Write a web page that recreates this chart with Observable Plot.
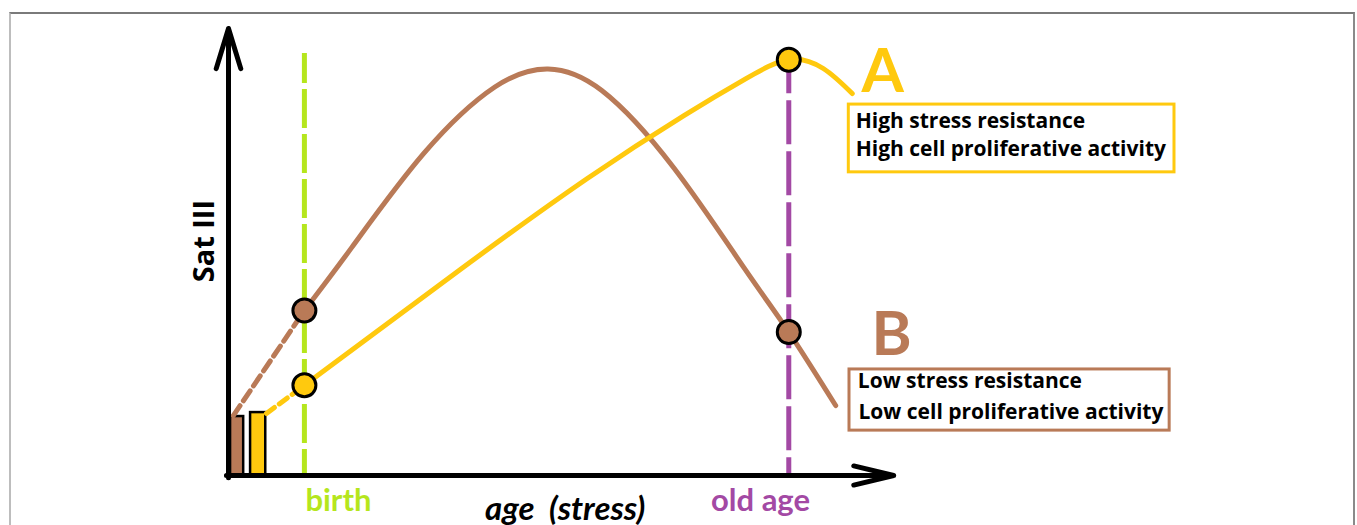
<!DOCTYPE html>
<html><head><meta charset="utf-8">
<script src="https://cdn.jsdelivr.net/npm/d3@7"></script>
<script src="https://cdn.jsdelivr.net/npm/@observablehq/plot@0.6"></script>
<style>
body{margin:0;background:#fff;}
#wrap{position:relative;width:1357px;height:525px;overflow:hidden;background:#fff;}
#frame{position:absolute;left:9px;top:12px;width:1342px;height:600px;border-top:2px solid #7a7a7a;border-left:2px solid #bdbdbd;border-right:2px solid #8a8a8a;pointer-events:none;}
</style></head><body>
<div id="wrap"><div id="chart"></div><div id="frame"></div></div>
<script>
// ---- colours
const brown = "#b97a57", yellow = "#ffc90e", green = "#b5e61d", purple = "#a349a4";

// ---- life stages (x = age, arbitrary units)
const stageNames = ["birth", "old age"];
const stageAge = [11, 81.2];
const stageTop = [95.9, 94.5];
const stageColor = [green, purple];

// ---- initial Sat III levels (bars at origin)
const barSeries = ["B", "A"];
const barX1 = [0.3, 3.2];
const barX2 = [2.2, 5.4];
const barValue = [13.4, 14.3];
const barColor = [brown, yellow];

// ---- curve B (brown): from birth onward
const brownAge = [11, 17.9, 28.3, 38.6, 46.3, 54.1, 64.5, 74.8, 81.2, 88.0];
const brownSat = [37.5, 51.9, 73.2, 88.3, 92.4, 87.5, 70.0, 47.0, 32.6, 15.9];
// ---- curve A (yellow)
const yellowAge = [11, 33.4, 52, 66, 75, 81.2, 86.2, 90.4];
const yellowSat = [20.5, 46.6, 67.5, 81.8, 90.2, 94.5, 92.5, 86.8];
// ---- pre-birth dashed extrapolation
const brownPreAge = [0.7, 11];
const brownPreSat = [13.6, 37.5];
const yellowPreAge = [5.5, 11];
const yellowPreSat = [14.1, 20.5];

// ---- marked points
const pointAge = [11, 81.2, 11, 81.2];
const pointSat = [37.5, 32.6, 20.5, 94.5];
const pointColor = [brown, brown, yellow, yellow];

// ---- axes
const axisX1 = [0, -0.3];
const axisY1 = [-0.5, 0];
const axisX2 = [0, 96.4];
const axisY2 = [101.6, 0];

// ---- group labels and boxes
const groupNames = ["A", "B"];
const groupLabelAge = [94.8, 96.1];
const groupLabelSat = [91.5, 31.8];
const groupColor = [yellow, brown];
const boxX1 = [89.9, 90.0], boxX2 = [137.1, 136.4];
const boxY1 = [68.9, 10.2], boxY2 = [84.3, 24.1];
const boxLines = ["High stress resistance", "High cell proliferative activity", "Low stress resistance", "Low cell proliferative activity"];
const boxLineAge = [90.9, 90.9, 91.2, 91.3];
const boxLineSat = [80.5, 74.2, 21.5, 14.4];

// ---- axis titles
const yTitle = "Sat III";
const xTitle = "age  (stress)";

const zip = (n, f) => d3.range(n).map(f);
const stages = zip(2, i => ({name: stageNames[i], age: stageAge[i], top: stageTop[i], color: stageColor[i]}));
const bars = zip(2, i => ({s: barSeries[i], x1: barX1[i], x2: barX2[i], v: barValue[i], c: barColor[i]}));
const line = (xs, ys) => xs.map((x, i) => ({x, y: ys[i]}));
const points = zip(4, i => ({x: pointAge[i], y: pointSat[i], c: pointColor[i]}));
const axes = zip(2, i => ({x1: axisX1[i], y1: axisY1[i], x2: axisX2[i], y2: axisY2[i]}));
const groups = zip(2, i => ({n: groupNames[i], x: groupLabelAge[i], y: groupLabelSat[i], c: groupColor[i], bx1: boxX1[i], bx2: boxX2[i], by1: boxY1[i], by2: boxY2[i]}));
const lines = zip(4, i => ({t: boxLines[i], x: boxLineAge[i], y: boxLineSat[i]}));

const chart = Plot.plot({
  width: 1357, height: 525,
  x: {type: "linear", domain: [0, 100], range: [228, 918], axis: null},
  y: {type: "linear", domain: [0, 100], range: [475, 35], axis: null},
  style: {fontFamily: "Lato, sans-serif", background: "white"},
  marks: [
    Plot.rect(bars, {x1: "x1", x2: "x2", y1: 0, y2: "v", fill: "c", stroke: "black", strokeWidth: 2.5}),
    Plot.ruleX([stages[0]], {x: "age", y1: "top", y2: 0, stroke: "color", strokeWidth: 5, strokeDasharray: "39,6", strokeDashoffset: 9}),
    Plot.ruleX([stages[1]], {x: "age", y1: "top", y2: 0, stroke: "color", strokeWidth: 5, strokeDasharray: "44,7", strokeDashoffset: 10}),
    Plot.line(line(brownPreAge, brownPreSat), {x: "x", y: "y", stroke: brown, strokeWidth: 5, strokeDasharray: "12,6"}),
    Plot.line(line(yellowPreAge, yellowPreSat), {x: "x", y: "y", stroke: yellow, strokeWidth: 5, strokeDasharray: "10,6"}),
    Plot.line(line(brownAge, brownSat), {x: "x", y: "y", stroke: brown, strokeWidth: 5, curve: "natural"}),
    Plot.line(line(yellowAge, yellowSat), {x: "x", y: "y", stroke: yellow, strokeWidth: 5, curve: "natural"}),
    Plot.arrow([axes[0]], {x1: "x1", y1: "y1", x2: "x2", y2: "y2", stroke: "black", strokeWidth: 5, headLength: 12.6, headAngle: 34, strokeLinecap: "round", strokeLinejoin: "round"}),
    Plot.arrow([axes[1]], {x1: "x1", y1: "y1", x2: "x2", y2: "y2", stroke: "black", strokeWidth: 5, headLength: 12.3, headAngle: 27, strokeLinecap: "round", strokeLinejoin: "round"}),
    Plot.dot(points, {x: "x", y: "y", r: 11.5, fill: "c", stroke: "black", strokeWidth: 3}),
    Plot.rect(groups, {x1: "bx1", x2: "bx2", y1: "by1", y2: "by2", fill: "white", stroke: "c", strokeWidth: 3}),
    Plot.text(groups, {x: "x", y: "y", text: "n", fill: "c", fontSize: 61, fontWeight: "bold"}),
    Plot.text(lines, {x: "x", y: "y", text: "t", textAnchor: "start", fill: "#000", fontSize: 21, fontWeight: "bold", fontFamily: "Open Sans, sans-serif"}),
    Plot.text([yTitle], {x: -3.5, y: 43.9, text: d => d, rotate: -90, textAnchor: "start", fill: "#000", fontSize: 29, fontWeight: "bold", fontFamily: "Open Sans, sans-serif"}),
    Plot.text([stages[0]], {x: "age", y: -5.7, text: "name", textAnchor: "start", fill: "color", fontSize: 31, fontWeight: "bold", dx: 1}),
    Plot.text([stages[1]], {x: d => d.age - 4.1, y: -5.7, text: "name", fill: "color", fontSize: 31, fontWeight: "bold"}),
    Plot.text([xTitle], {x: 48.8, y: -7.6, text: d => d, fill: "#000", fontSize: 33, fontWeight: "bold", fontStyle: "italic"})
  ]
});
document.getElementById("chart").appendChild(chart);
</script></body></html>
